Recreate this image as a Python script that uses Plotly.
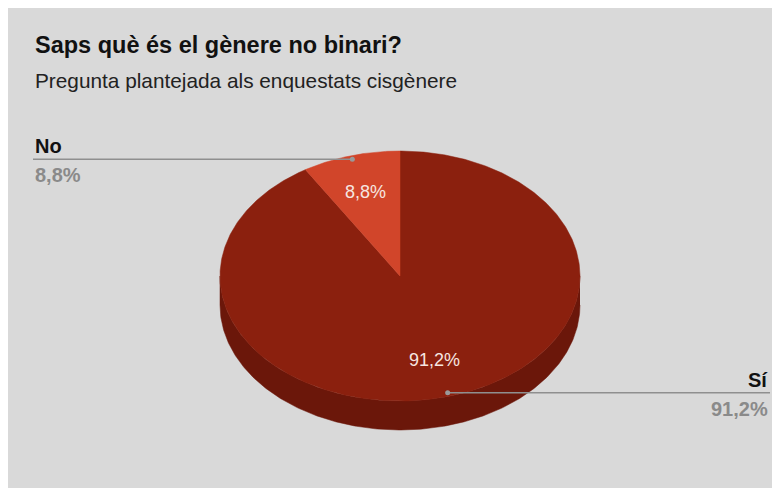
import numpy as np
import plotly.graph_objects as go

# ---- data ----
labels = ["Sí", "No"]
values = [91.2, 8.8]
pct_text = ["91,2%", "8,8%"]
title = "Saps què és el gènere no binari?"
subtitle = "Pregunta plantejada als enquestats cisgènere"

# ---- style ----
top_colors = ["#8b200e", "#d1452a"]
side_colors = ["#6b170a", "#a3331d"]
FONT = "Liberation Sans, Arial, sans-serif"
W, H = 780, 488
OFF = 8  # page body margin: axis units == page pixels
CX, CY, RX, RY, DEPTH = 400, 276, 180, 125, 29


def pt(theta_deg, f=1.0, dy=0.0):
    t = np.radians(theta_deg)
    return CX + RX * f * np.sin(t), CY - RY * f * np.cos(t) + dy


fig = go.Figure()
total = float(sum(values))
cum = np.cumsum([0.0] + list(values)) / total * 360.0
starts, ends = cum[:-1], cum[1:]

# side (depth) of the 3D pie, visible front half only
for s, e, c in zip(starts, ends, side_colors):
    a, b = max(s, 90.0), min(e, 270.0)
    if a < b:
        th = np.linspace(a, b, 240)
        x1, y1 = pt(th)
        x2, y2 = pt(th[::-1], dy=DEPTH)
        fig.add_trace(go.Scatter(
            x=np.r_[x1, x2], y=np.r_[y1, y2], fill="toself", fillcolor=c,
            line=dict(color=c, width=0.5), mode="lines",
            hoverinfo="skip", showlegend=False))

# top faces of the slices
for s, e, c in zip(starts, ends, top_colors):
    th = np.linspace(s, e, max(int((e - s) * 2), 12))
    x, y = pt(th)
    fig.add_trace(go.Scatter(
        x=np.r_[CX, x, CX], y=np.r_[CY, y, CY], fill="toself", fillcolor=c,
        line=dict(color=c, width=0.5), mode="lines",
        hoverinfo="skip", showlegend=False))

annotations = []
# title & subtitle
annotations.append(dict(x=33, y=45, xref="x", yref="y", xanchor="left", yanchor="middle",
                        text="<b>" + title + "</b>", showarrow=False,
                        font=dict(family=FONT, size=23.5, color="#111111")))
annotations.append(dict(x=33, y=80, xref="x", yref="y", xanchor="left", yanchor="middle",
                        text=subtitle, showarrow=False,
                        font=dict(family=FONT, size=20.8, color="#222222")))

for s, e, lab, pt_txt in zip(starts, ends, labels, pct_text):
    mid = (s + e) / 2.0
    # inside percentage
    ix, iy = pt(mid, f=0.7)
    annotations.append(dict(x=ix, y=iy, xref="x", yref="y", text=pt_txt, showarrow=False,
                            font=dict(family=FONT, size=18, color="#f6e6e0")))
    # leader line
    dx, dy = pt(mid, f=0.97)
    if dx >= CX:
        lx, anchor = 770, "right"
    else:
        lx, anchor = 33, "left"
    fig.add_trace(go.Scatter(x=[dx, lx], y=[dy, dy], mode="lines",
                             line=dict(color="#8f8f8f", width=1.5),
                             hoverinfo="skip", showlegend=False))
    fig.add_trace(go.Scatter(x=[dx], y=[dy], mode="markers",
                             marker=dict(color="#9a9a9a", size=5),
                             hoverinfo="skip", showlegend=False))
    annotations.append(dict(x=lx, y=dy - 13, xref="x", yref="y", xanchor=anchor,
                            yanchor="middle", text="<b>" + lab + "</b>", showarrow=False,
                            font=dict(family=FONT, size=20, color="#111111")))
    annotations.append(dict(x=lx, y=dy + 16, xref="x", yref="y", xanchor=anchor,
                            yanchor="middle", text="<b>" + pt_txt + "</b>", showarrow=False,
                            font=dict(family=FONT, size=20, color="#8a8a8a")))

fig.update_layout(
    width=W, height=H, margin=dict(l=0, r=0, t=0, b=0),
    paper_bgcolor="#d9d9d9", plot_bgcolor="#d9d9d9",
    xaxis=dict(range=[OFF, W + OFF], visible=False, fixedrange=True),
    yaxis=dict(range=[H + OFF, OFF], visible=False, fixedrange=True),
    annotations=annotations,
    showlegend=False,
)

fig.write_html("out.html")
